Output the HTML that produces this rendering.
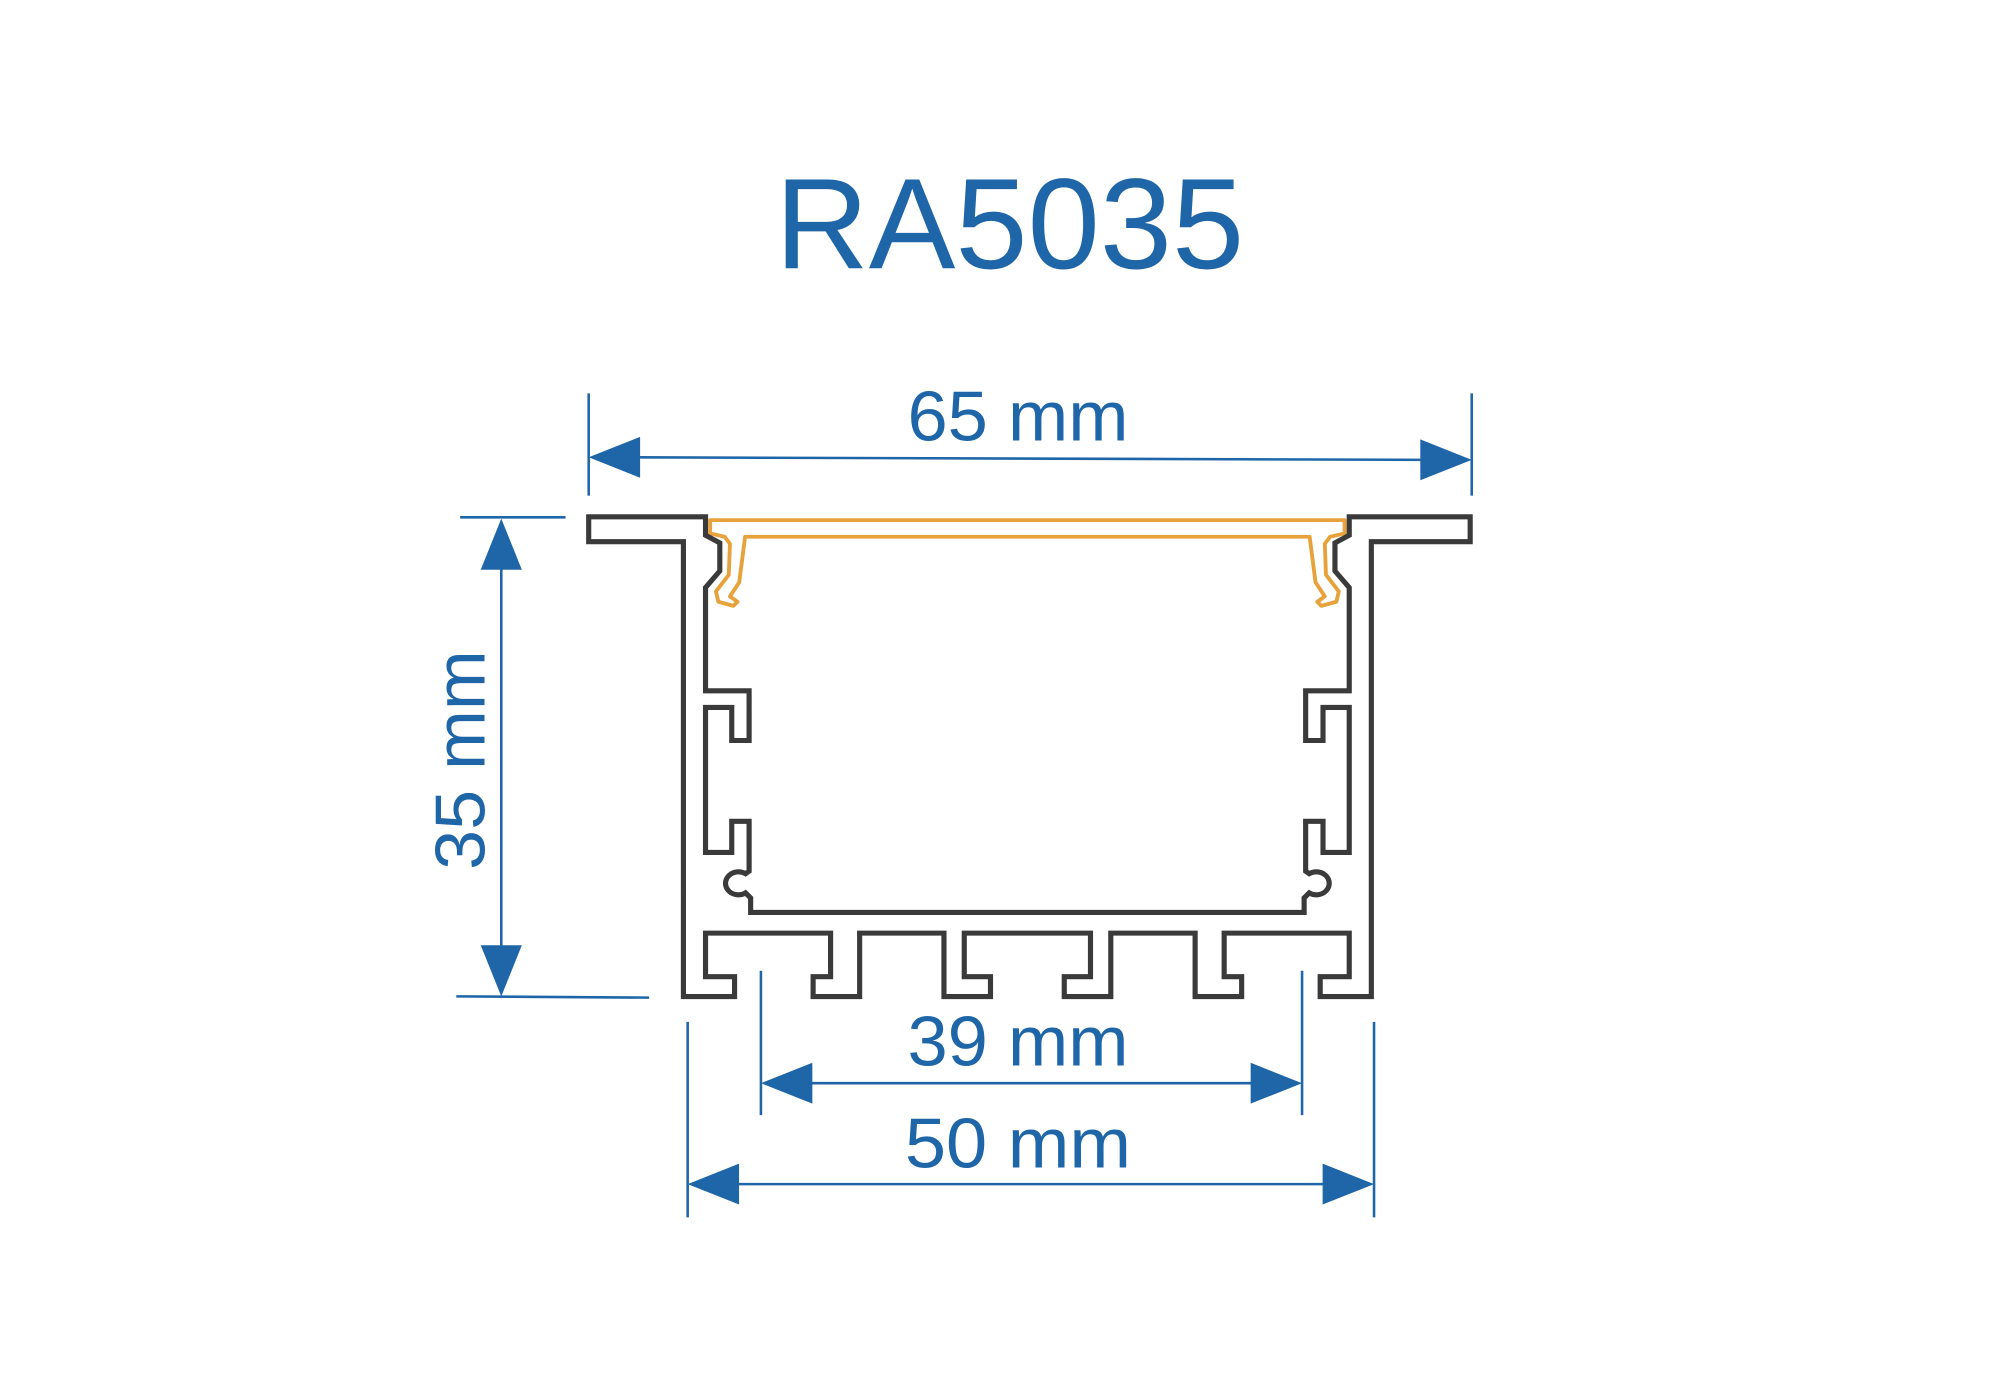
<!DOCTYPE html>
<html><head><meta charset="utf-8"><style>
html,body{margin:0;padding:0;background:#fff;width:2000px;height:1400px;overflow:hidden}
svg{display:block}
</style></head><body>
<svg width="2000" height="1400" viewBox="0 0 1556 1096" preserveAspectRatio="none" xmlns="http://www.w3.org/2000/svg">
<rect width="1556" height="1096" fill="#fff"/>
<g font-family="Liberation Sans, sans-serif" fill="#1f66a8">
<text x="603" y="210" font-size="101" textLength="365" lengthAdjust="spacingAndGlyphs">RA5035</text>
<text x="706" y="345" font-size="55" textLength="172" lengthAdjust="spacingAndGlyphs">65 mm</text>
<text x="706" y="834" font-size="55" textLength="172" lengthAdjust="spacingAndGlyphs">39 mm</text>
<text x="704" y="914" font-size="55" textLength="176" lengthAdjust="spacingAndGlyphs">50 mm</text>
<text transform="translate(377,681) rotate(-90)" x="0" y="0" font-size="55" textLength="172" lengthAdjust="spacingAndGlyphs">35 mm</text>
</g>
<g stroke="#1f66a8" stroke-width="2" fill="none">
<line x1="458" y1="308" x2="458" y2="388"/>
<line x1="1145" y1="308" x2="1145" y2="388"/>
<line x1="490" y1="358" x2="1110" y2="360"/>
<line x1="358" y1="405" x2="440" y2="405"/>
<line x1="355" y1="780" x2="505" y2="781"/>
<line x1="390" y1="440" x2="390" y2="745"/>
<line x1="592" y1="760" x2="592" y2="873"/>
<line x1="1013" y1="760" x2="1013" y2="873"/>
<line x1="625" y1="848" x2="980" y2="848"/>
<line x1="535" y1="800" x2="535" y2="953"/>
<line x1="1069" y1="800" x2="1069" y2="953"/>
<line x1="570" y1="927" x2="1035" y2="927"/>
</g>
<g fill="#1f66a8">
<polygon points="458,358 498,342 498,374"/>
<polygon points="1145,360 1105,344 1105,376"/>
<polygon points="390,406 374,446 406,446"/>
<polygon points="390,780 374,740 406,740"/>
<polygon points="592,848 632,832 632,864"/>
<polygon points="1013,848 973,832 973,864"/>
<polygon points="535,927 575,911 575,943"/>
<polygon points="1069,927 1029,911 1029,943"/>
</g>
<path fill="none" stroke="#e8a23c" stroke-width="3" stroke-linejoin="round" d="M552.5,407.2 L552.5,417.6 L563.8,420.2 L567.9,425.7 L567,450 L557,463 L558.9,471.1 L570.6,474.3 L573.8,471.1 L567.9,466.9 L575.1,455.9 L579.7,420.2 L1018.9,420.2 L1023.5,455.9 L1030.7,466.9 L1024.8,471.1 L1028,474.3 L1039.7,471.1 L1041.6,463 L1031.6,450 L1030.7,425.7 L1034.8,420.2 L1046.1,417.6 L1046.1,407.2 Z"/>
<path fill="none" stroke="#3a3a3a" stroke-width="4" stroke-linejoin="miter" d="M458,404.6 H548.9 V419 L560,425 V447 L548.9,460 V540.8 H582.8 V579.7 H569.3 V553.8 H548.9 V667.3 H569.3 V643 H582.8 V682 L580,684 A10,9 0 1 0 580,699 L584,703 V714.3 H1014.6 V703 L1018.6,699 A10,9 0 1 0 1018.6,684 L1015.8,682 V643 H1029.3 V667.3 H1049.7 V553.8 H1029.3 V579.7 H1015.8 V540.8 H1049.7 V460 L1038.6,447 V425 L1049.7,419 V404.6 H1143.8 V424.1 H1066.9 V780.2 H1027.1 V764.6 H1049.7 V730.5 H952.4 V764.6 H966 V780.2 H929.8 V730.5 H864.2 V780.2 H828 V764.6 H848.4 V730.5 H750.2 V764.6 H770.6 V780.2 H734.4 V730.5 H668.8 V780.2 H632.6 V764.6 H646.2 V730.5 H548.9 V764.6 H571.5 V780.2 H531.7 V424.1 H458 Z"/>
</svg>
</body></html>
